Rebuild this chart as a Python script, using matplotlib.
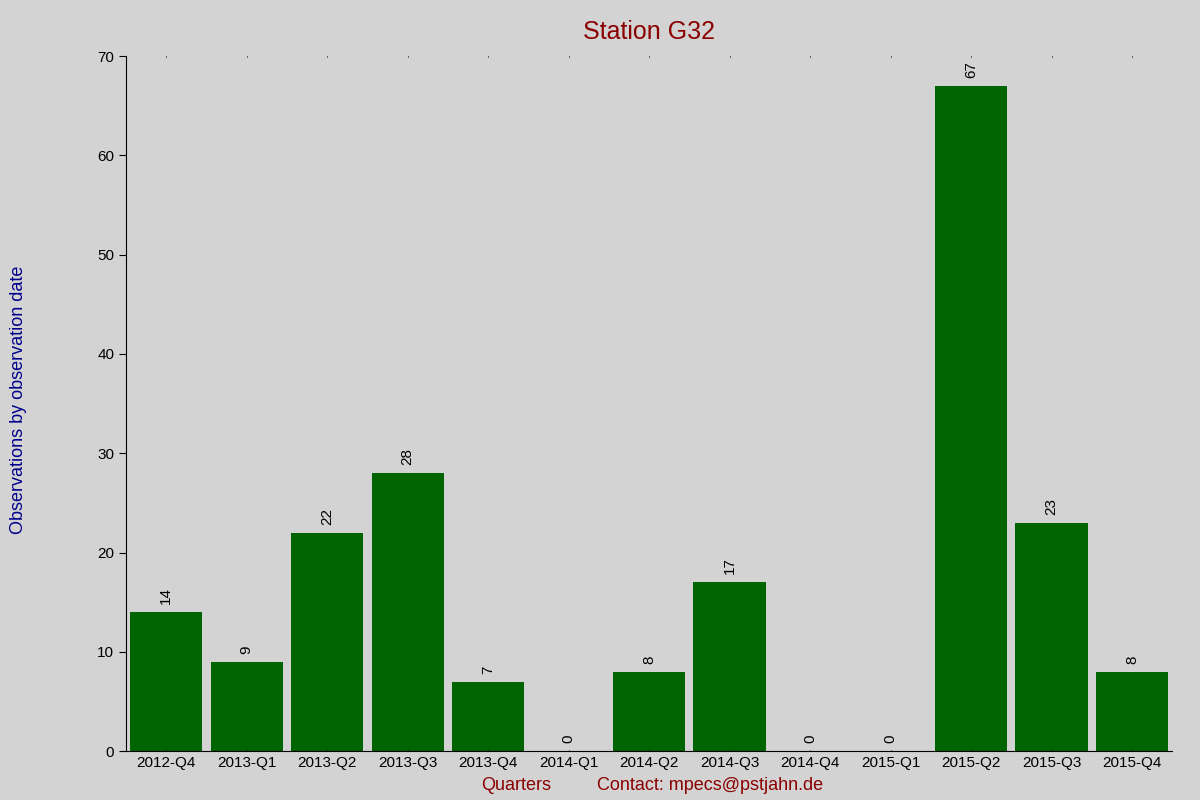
import matplotlib
matplotlib.use("Agg")
import matplotlib.pyplot as plt

quarters = ["2012-Q4", "2013-Q1", "2013-Q2", "2013-Q3", "2013-Q4", "2014-Q1", "2014-Q2",
            "2014-Q3", "2014-Q4", "2015-Q1", "2015-Q2", "2015-Q3", "2015-Q4"]
counts = [14, 9, 22, 28, 7, 0, 8, 17, 0, 0, 67, 23, 8]

plt.rcParams["font.family"] = ["Liberation Sans", "DejaVu Sans"]
bg = "#d3d3d3"
fig = plt.figure(figsize=(12, 8), dpi=100, facecolor=bg)
ax = fig.add_axes([0.105, 0.061, 0.872, 0.869], facecolor=bg)

x = list(range(len(quarters)))
ax.bar(x, counts, width=0.9, color="#006400")
for xi, c in zip(x, counts):
    ax.text(xi, c + 0.8, str(c), rotation=90, ha="center", va="bottom", fontsize=11)

ax.set_xlim(-0.5, 12.5)
ax.set_ylim(0, 70)
ax.set_xticks(x)
ax.set_xticklabels(quarters, fontsize=11)
ax.set_yticks(range(0, 71, 10))
ax.tick_params(axis="y", labelsize=11, length=5)
ax.tick_params(axis="x", length=0, top=True)
ax.tick_params(axis="x", which="major", top=True, length=1, direction="in")
for s in ["top", "right"]:
    ax.spines[s].set_visible(False)

ax.set_title("Station G32", color="#8b0000", fontsize=18, pad=12)
fig.text(0.43, 0.008, "Quarters", color="#8b0000", fontsize=13, ha="center", va="bottom")
fig.text(0.592, 0.008, "Contact: mpecs@pstjahn.de", color="#8b0000", fontsize=13, ha="center", va="bottom")
fig.text(0.008, 0.5, "Observations by observation date", color="#00008b", fontsize=13,
         rotation=90, ha="left", va="center")

fig.savefig("out.png", dpi=100, facecolor=bg)
